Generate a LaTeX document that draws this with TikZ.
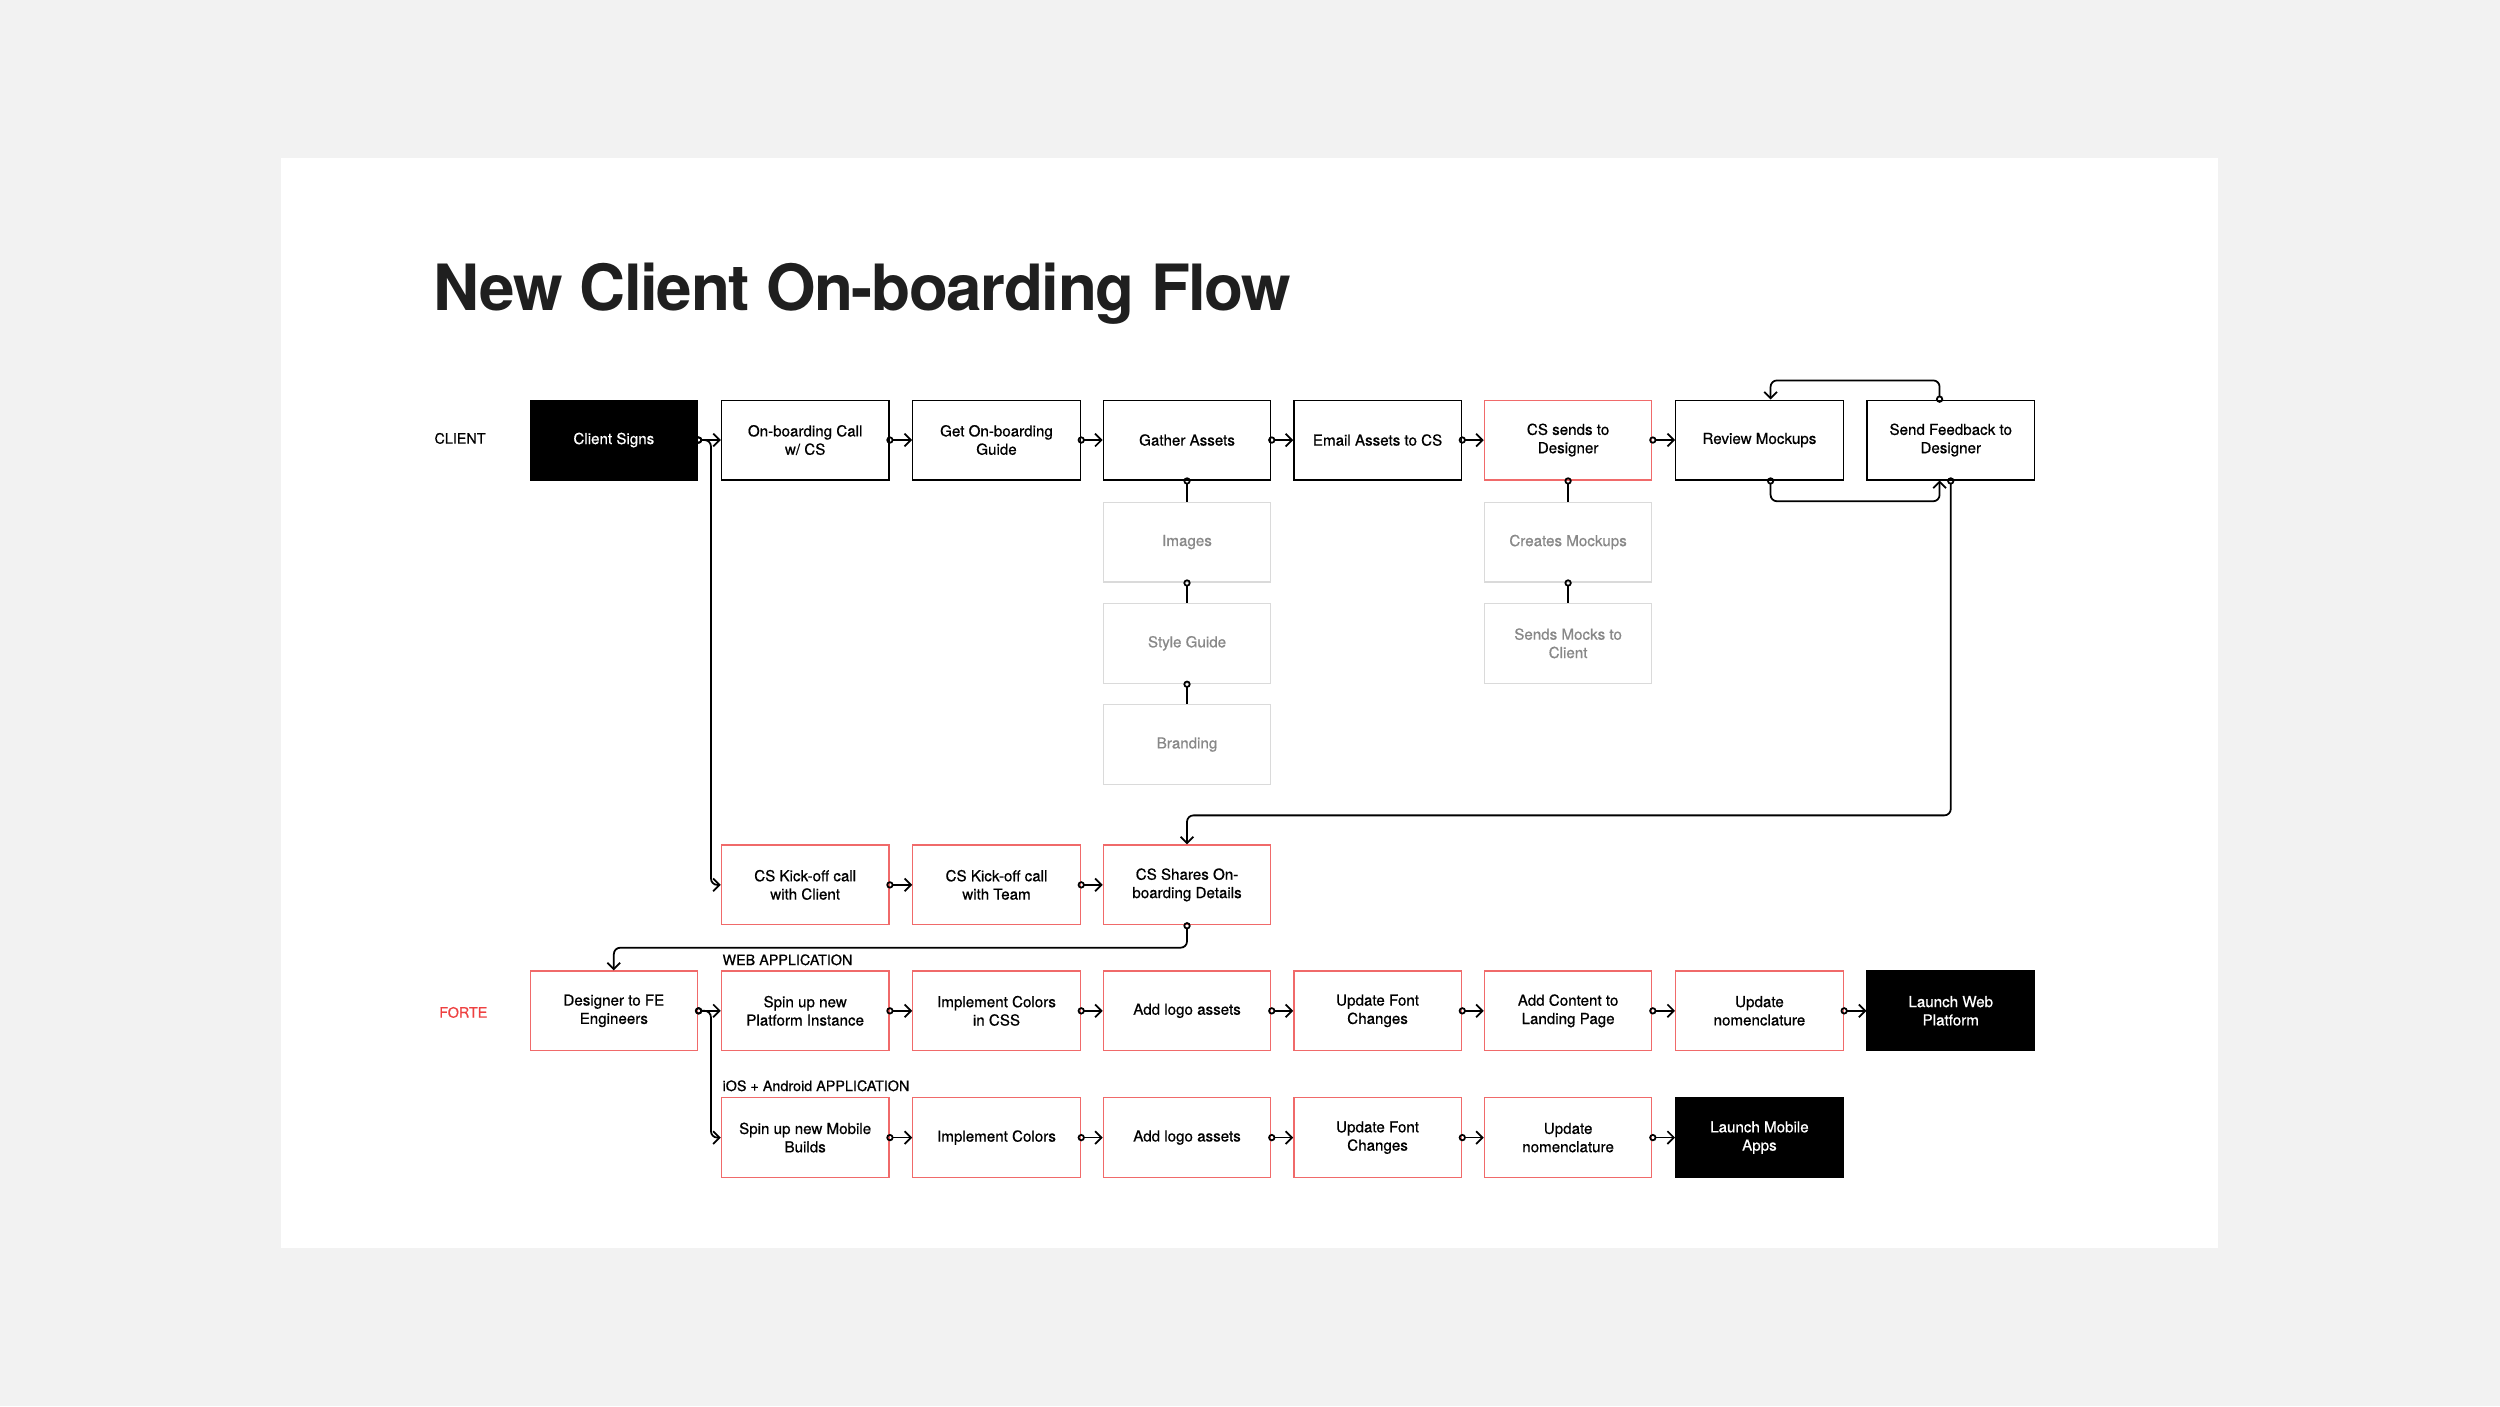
\documentclass[tikz,border=0pt]{standalone}
\usepackage{fontspec}
\usepackage{tikz}
\usetikzlibrary{arrows.meta}
\setmainfont{TeX Gyre Heros}
\newfontfamily\boxfont{TeX Gyre Heros}[FakeBold=0.6]

\definecolor{pageGrey}{HTML}{F2F2F2}
\definecolor{forteRed}{HTML}{F06A6A}
\definecolor{labelRed}{HTML}{EE4040}
\definecolor{boxGrey}{HTML}{DADADA}
\definecolor{textGrey}{HTML}{888888}
\definecolor{titleInk}{HTML}{1F1F1F}

\tikzset{
  flowbox/.style={draw=black, line width=0.8pt, minimum width=105pt, minimum height=50pt,
    align=center, inner sep=2pt, font=\boxfont\fontsize{9.5}{11.5}\selectfont},
  redbox/.style={flowbox, draw=forteRed},
  greybox/.style={flowbox, draw=boxGrey, text=textGrey},
  blackbox/.style={flowbox, fill=black, text=white},
  link/.style={line width=1.1pt, rounded corners=4pt, shorten <=-2pt,
    {Circle[open,length=4.5pt,width=4.5pt]}-{Straight Barb[length=4pt,width=8pt]}},
  tie/.style={line width=1.1pt, shorten <=-2pt, {Circle[open,length=4.5pt,width=4.5pt]}-},
  lane/.style={font=\boxfont\fontsize{9}{11}\selectfont, anchor=west}
}

\begin{document}
\begin{tikzpicture}[x=1pt,y=-1pt]
            \fill[pageGrey] (0,0) rectangle (1568,882);
            \fill[white] (176,99) rectangle (1391,783);
            \useasboundingbox (0,0) rectangle (1568,882);

            \node[anchor=base west, text=titleInk, inner sep=0pt,
                font=\fontsize{40}{40}\selectfont\bfseries\addfontfeatures{LetterSpace=-2.2}]
                (title) at (272,195) {New Client On-boarding Flow};

            % lanes
            \node[lane] (client) at (269,275) {CLIENT};
            \node[lane, text=labelRed] (forte) at (272,635) {FORTE};
            \node[lane, inner sep=0pt] (webapp) at (453,602) {WEB APPLICATION};
            \node[lane, inner sep=0pt] (mobileapp) at (453,681) {iOS + Android APPLICATION};

            % client row
            \node[blackbox] (signs) at (385,276) {Client Signs};
            \node[flowbox] (call) at (505,276) {On-boarding Call\\w/ CS};
            \node[flowbox] (guide) at (625,276) {Get On-boarding\\Guide};
            \node[flowbox] (gather) at (744.5,276) {Gather Assets};
            \node[flowbox] (email) at (864,276) {Email Assets to CS};
            \node[redbox] (sends) at (983.5,276) {CS sends to\\Designer};
            \node[flowbox] (review) at (1103.5,276) {Review Mockups};
            \node[flowbox] (feedback) at (1223.5,276) {Send Feedback to\\Designer};

            \node[greybox] (images) at (744.5,340) {Images};
            \node[greybox] (style) at (744.5,403.5) {Style Guide};
            \node[greybox] (branding) at (744.5,467) {Branding};
            \node[greybox] (creates) at (983.5,340) {Creates Mockups};
            \node[greybox] (mocks) at (983.5,403.5) {Sends Mocks to\\Client};

            % kick-off row
            \node[redbox] (kickclient) at (505,555) {CS Kick-off call\\with Client};
            \node[redbox] (kickteam) at (625,555) {CS Kick-off call\\with Team};
            \node[redbox] (shares) at (744.5,555) {CS Shares On-\\boarding Details};

            % web row
            \node[redbox] (designer) at (385,634) {Designer to FE\\Engineers};
            \node[redbox] (platform) at (505,634) {Spin up new\\Platform Instance};
            \node[redbox] (csscolors) at (625,634) {Implement Colors\\in CSS};
            \node[redbox] (weblogo) at (744.5,634) {Add logo assets};
            \node[redbox] (webfont) at (864,634) {Update Font\\Changes};
            \node[redbox] (content) at (983.5,634) {Add Content to\\Landing Page};
            \node[redbox] (webnames) at (1103.5,634) {Update\\nomenclature};
            \node[blackbox] (launchweb) at (1223.5,634) {Launch Web\\Platform};

            % mobile row
            \node[redbox] (builds) at (505,713.5) {Spin up new Mobile\\Builds};
            \node[redbox] (colors) at (625,713.5) {Implement Colors};
            \node[redbox] (applogo) at (744.5,713.5) {Add logo assets};
            \node[redbox] (appfont) at (864,713.5) {Update Font\\Changes};
            \node[redbox] (appnames) at (983.5,713.5) {Update\\nomenclature};
            \node[blackbox] (launchapps) at (1103.5,713.5) {Launch Mobile\\Apps};

            \draw[link] (signs.east) -- (call.west);
            \draw[link] (call.east) -- (guide.west);
            \draw[link] (guide.east) -- (gather.west);
            \draw[link] (gather.east) -- (email.west);
            \draw[link] (email.east) -- (sends.west);
            \draw[link] (sends.east) -- (review.west);
            \draw[link] (signs.east) -- ++(8,0) |- (kickclient.west);

            \draw[tie] (gather.south) -- (images.north);
            \draw[tie] (images.south) -- (style.north);
            \draw[tie] (style.south) -- (branding.north);
            \draw[tie] (sends.south) -- (creates.north);
            \draw[tie] (creates.south) -- (mocks.north);

            \draw[link] ([xshift=7pt]review.south) -- ++(0,13) -| ([xshift=-7pt]feedback.south);
            \draw[link] ([xshift=-7pt]feedback.north) -- ++(0,-12) -| ([xshift=7pt]review.north);
            \draw[link] (feedback.south) -- ++(0,210) -| (shares.north);

            \draw[link] (kickclient.east) -- (kickteam.west);
            \draw[link] (kickteam.east) -- (shares.west);
            \draw[link] (shares.south) -- ++(0,14) -| (designer.north);

            \draw[link] (designer.east) -- (platform.west);
            \draw[link] (designer.east) -- ++(8,0) |- (builds.west);
            \draw[link] (platform.east) -- (csscolors.west);
            \draw[link] (csscolors.east) -- (weblogo.west);
            \draw[link] (weblogo.east) -- (webfont.west);
            \draw[link] (webfont.east) -- (content.west);
            \draw[link] (content.east) -- (webnames.west);
            \draw[link] (webnames.east) -- (launchweb.west);

            \draw[link] (builds.east) -- (colors.west);
            \draw[link] (colors.east) -- (applogo.west);
            \draw[link] (applogo.east) -- (appfont.west);
            \draw[link] (appfont.east) -- (appnames.west);
            \draw[link] (appnames.east) -- (launchapps.west);
        \end{tikzpicture}
\end{document}
